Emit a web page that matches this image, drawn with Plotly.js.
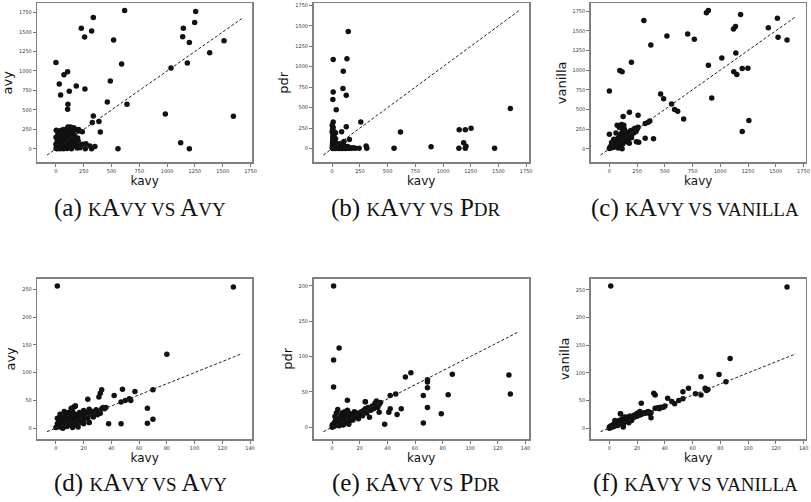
<!DOCTYPE html>
<html><head><meta charset="utf-8">
<script src="https://cdn.plot.ly/plotly-3.0.1.min.js"></script>
<style>html,body{margin:0;padding:0;background:#fff}</style>
</head><body>
<div id="chart" style="width:811px;height:502px"></div>
<script>
// ---- data (kavy on x, baseline on y) ----
var aX = [0,30,42,72,105,120,108,105,183,228,258,261,321,336,519,618,591,489,462,639,336,327,387,399,558,984,1035,1122,1140,1146,1200,1182,1200,1248,1257,1383,1512,1596,
  216,237,270,264,306,321,351,237,204,
  2,5,8,10,12,15,18,20,22,25,28,30,32,35,38,40,42,45,48,50,55,58,60,62,65,68,70,75,78,80,82,85,88,90,95,98,100,102,105,108,110,115,118,120,122,125,130,135,140,145,150,155,160,165,170,175,180,185,190,195,200,205,210,220,160,130,3,1,0,12,40,70,100,140,190];
var aY = [1110,833,692,952,990,739,572,508,807,1550,1435,769,1512,1687,1396,1776,1089,871,602,572,423,337,350,218,0,448,1038,77,1439,1550,0,1102,1366,1623,1764,1234,1388,418,
  13,60,64,0,38,0,30,220,250,
  5,20,45,80,120,160,200,230,10,60,100,140,180,220,30,70,110,150,190,240,15,55,95,135,175,210,250,40,80,120,160,200,240,20,60,100,140,180,260,280,220,30,90,130,170,250,200,60,110,150,230,80,40,180,120,90,60,250,30,140,100,230,20,40,270,280,240,150,60,0,2,0,5,2,10];

var bX = [145,9,133,100,97,9,6,127,36,9,0,127,258,85,30,0,155,106,616,1607,1146,1201,1253,1186,1207,1143,1201,892,558,1465,306,312,209,243,152,
  0,2,3,5,5,6,8,10,4,8,12,15,20,25,30,35,40,45,50,55,60,65,70,80,90,100,110,120,130,140,150,160,175,190,15,20,12,25,3,30,18,40,8,10,6,30,60,90,120,80];
var bY = [1430,1087,1099,946,735,691,598,650,473,323,283,267,323,206,194,202,109,85,202,489,230,230,247,69,28,4,4,20,4,4,32,4,4,4,4,
  10,30,60,90,120,150,180,210,240,20,40,5,15,30,50,10,25,60,5,35,15,45,8,20,40,10,30,5,15,25,5,10,3,8,100,70,160,190,220,120,130,45,260,5,0,0,0,0,0,60];

var cX = [0,0,94,115,199,311,374,519,706,766,875,893,893,1014,1119,1137,1183,1140,1122,1149,1198,1249,1433,1515,1521,1602,923,462,489,561,588,616,670,1198,1258,323,398,181,259,124,365,350,323,259,235,244,265,115,
  0,5,10,15,20,25,30,35,40,45,50,55,60,65,70,75,80,85,90,95,100,105,110,115,120,125,130,135,140,145,150,160,170,180,190,200,210,220,230,240,250,70,90,60,40,20,110,130,150,170,180,100,80,120,200];
var cY = [734,186,995,978,1101,1632,1320,1434,1459,1392,1729,1758,1063,1155,1522,1556,1708,1219,978,945,1021,1025,1539,1661,1417,1383,645,696,637,569,498,477,380,219,358,135,127,464,426,409,354,337,320,274,245,89,84,0,
  5,15,30,10,40,25,60,45,20,80,55,35,100,70,50,130,95,65,150,120,80,190,140,105,220,170,120,250,200,150,180,130,210,160,230,190,240,200,260,220,250,300,270,200,120,80,310,300,90,100,70,20,10,60,140];

var dX = [1,128,80,70,57,48,42,33,32,31,23,47,50,53,54,66,70,66,47,38,24,36,34,14,13,
  0,1,1,2,2,3,3,4,4,5,5,6,6,7,7,8,8,9,9,10,10,11,12,12,13,13,14,14,15,15,16,17,18,18,19,20,20,21,22,23,24,25,26,27,28,29,30,31,32,33,35,11,6,3,1,16,20,24,12,5];
var dY = [256,254,133,69,66,70,59,69,63,56,52,47,50,53,50,36,16,9,8,8,10,37,37,40,38,
  1,3,8,5,12,2,16,8,20,4,12,18,7,24,14,3,10,20,28,6,15,22,12,30,8,18,25,40,14,5,20,28,10,18,24,32,15,22,28,18,34,25,30,20,28,33,24,30,27,35,35,36,30,25,18,2,8,10,1,0];

var eX = [1,5,1,1,11,128,129,87,84,79,69,69,69,69,66,66,57,53,50,47,46,42,42,38,41,32,24,
  0,0,1,1,2,2,3,3,4,4,5,5,6,6,7,7,8,8,9,9,10,10,11,11,12,12,13,13,14,15,16,16,17,18,19,20,21,22,23,24,24,25,26,27,28,29,30,31,32,33,34,34,35,2,3];
var eY = [200,112,95,57,38,74,47,75,46,19,67,64,56,28,6,45,77,71,26,18,47,45,26,4,21,37,36,
  0,3,5,1,8,2,4,12,6,25,10,2,15,5,8,20,12,3,16,22,7,18,12,24,4,20,14,9,18,10,22,14,16,20,12,18,22,16,24,26,36,20,28,14,24,30,26,34,30,28,21,32,35,15,20];

var fX = [1,128,87,79,66,84,57,53,66,62,69,70,71,45,47,42,50,53,32,33,23,30,35,39,8,
  0,0,1,1,2,2,3,3,4,4,5,5,6,6,7,7,8,8,9,9,10,10,11,11,12,12,13,13,14,14,15,15,16,16,17,18,18,19,20,20,21,22,22,23,24,25,26,27,28,29,30,33,35,37,40,36,10,4];
var fY = [257,255,126,97,93,84,72,66,60,62,72,68,70,48,44,54,50,53,63,60,45,19,36,38,26,
  0,2,1,4,2,5,3,7,4,8,6,10,5,12,8,14,9,26,10,16,11,5,13,20,12,18,14,20,15,10,16,22,18,14,19,20,24,21,22,27,23,24,30,25,26,28,27,29,30,26,28,36,37,38,40,35,2,14];

var yNames = ['avy','pdr','vanilla','avy','pdr','vanilla'];
var xName = 'kavy';
var sc = function(t){return "<span style='font-size:19px'>"+t+"</span>";};
var captions = [
  '(a) '+sc('K')+'A'+sc('VY VS')+' A'+sc('VY'),
  '(b) '+sc('K')+'A'+sc('VY VS')+' P'+sc('DR'),
  '(c) '+sc('K')+'A'+sc('VY VS VANILLA'),
  '(d) '+sc('K')+'A'+sc('VY VS')+' A'+sc('VY'),
  '(e) '+sc('K')+'A'+sc('VY VS')+' P'+sc('DR'),
  '(f) '+sc('K')+'A'+sc('VY VS VANILLA')
];
var panels = [[aX,aY],[bX,bY],[cX,cY],[dX,dY],[eX,eY],[fX,fY]];
var yDticks = [250,250,250,50,50,50];
var xDticks = [250,250,250,20,20,20];

// ---- layout geometry ----
var W = 811, H = 502;
var colPx = [[37.3,252],[313.5,529],[590.7,805.7]];
var rowPx = [[3.3,162.3],[278.7,439]];
var capX = [140,416,695];
var capY = [208,483];

function pad(lo,hi){var m=(hi-lo)*0.05;return [lo-m,hi+m];}
function mn(a){return Math.min.apply(null,a);} function mx(a){return Math.max.apply(null,a);}

var traces = [], layout = {
  width: W, height: H, margin:{l:0,r:0,t:0,b:0},
  paper_bgcolor:'#fff', plot_bgcolor:'#fff', showlegend:false,
  font:{family:'DejaVu Sans', color:'#222'},
  annotations: []
};
panels.forEach(function(p,i){
  var n = i+1, sfx = n===1?'':String(n);
  var xs = p[0], ys = p[1];
  var xl = pad(mn(xs), mx(xs));
  var xr = pad(xl[0], xl[1]);
  var yr = pad(Math.min(mn(ys), xl[0]), Math.max(mx(ys), xl[1]));
  traces.push({x:xs, y:ys, type:'scatter', mode:'markers', xaxis:'x'+sfx, yaxis:'y'+sfx,
    marker:{color:'#111', size:5.5, line:{width:0}}, hoverinfo:'skip'});
  traces.push({x:[xl[0],xl[1]], y:[xl[0],xl[1]], type:'scatter', mode:'lines', xaxis:'x'+sfx, yaxis:'y'+sfx,
    line:{color:'#222', width:1, dash:'3px,2px'}, hoverinfo:'skip'});
  var c = colPx[i%3], r = rowPx[Math.floor(i/3)];
  var ax = {domain:[c[0]/W, c[1]/W], range:xr, anchor:'y'+sfx, dtick:xDticks[i], tick0:0,
    showgrid:false, zeroline:false, showline:true, mirror:true, linecolor:'#808080', linewidth:1.5,
    ticks:'outside', ticklen:3, tickcolor:'#555', tickwidth:0.8,
    tickfont:{size:5, color:'#333', family:'DejaVu Sans'},
    title:{text:xName, font:{size:12, color:'#111', family:'DejaVu Sans'}, standoff:4}};
  var ay = {domain:[1-r[1]/H, 1-r[0]/H], range:yr, anchor:'x'+sfx, dtick:yDticks[i], tick0:0,
    showgrid:false, zeroline:false, showline:true, mirror:true, linecolor:'#808080', linewidth:1.5,
    ticks:'outside', ticklen:3, tickcolor:'#555', tickwidth:0.8,
    tickfont:{size:5, color:'#333', family:'DejaVu Sans'},
    title:{text:yNames[i], font:{size:13, color:'#111', family:'DejaVu Sans'}, standoff:3}};
  layout['xaxis'+sfx] = ax; layout['yaxis'+sfx] = ay;
  layout.annotations.push({text:captions[i], xref:'paper', yref:'paper',
    x:capX[i%3]/W, y:1-capY[Math.floor(i/3)]/H, xanchor:'center', yanchor:'middle', showarrow:false,
    font:{family:'Liberation Serif', size:25, color:'#111'}});
});
Plotly.newPlot('chart', traces, layout, {staticPlot:true});
</script>
</body></html>
